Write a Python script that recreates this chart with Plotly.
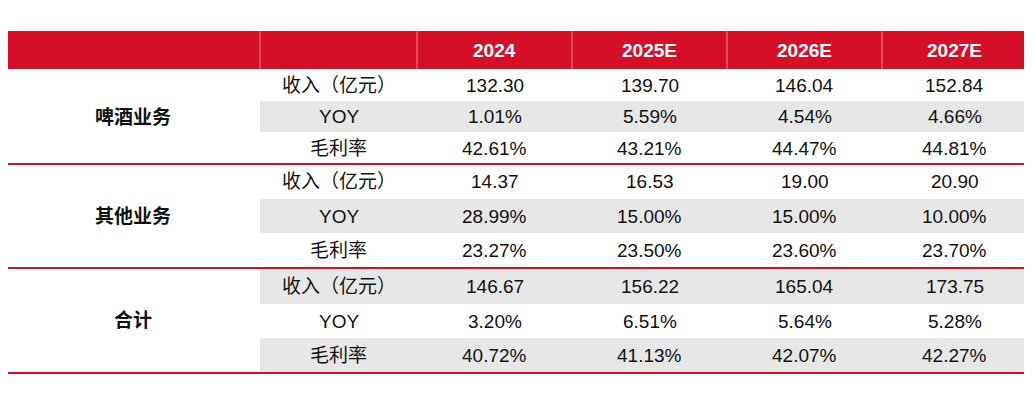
import plotly.graph_objects as go

TITLE = "表6  盈利预测拆分"
SOURCE = "资料来源：wind，东海证券研究所"
YEARS = ["2024", "2025E", "2026E", "2027E"]
GROUPS = ["啤酒业务", "其他业务", "合计"]
ITEMS = ["收入（亿元）", "YOY", "毛利率"]
VALUES = [
    [["132.30", "139.70", "146.04", "152.84"],
     ["1.01%", "5.59%", "4.54%", "4.66%"],
     ["42.61%", "43.21%", "44.47%", "44.81%"]],
    [["14.37", "16.53", "19.00", "20.90"],
     ["28.99%", "15.00%", "15.00%", "10.00%"],
     ["23.27%", "23.50%", "23.60%", "23.70%"]],
    [["146.67", "156.22", "165.04", "173.75"],
     ["3.20%", "6.51%", "5.64%", "5.28%"],
     ["40.72%", "41.13%", "42.07%", "42.27%"]],
]
SHADED = [[False, True, False], [False, True, False], [True, False, True]]

RED = "#D40F27"
GRAY = "#E7E7E7"
FONT = "Liberation Sans, Noto Sans CJK SC"
W, H = 1032, 405
PAD = 8  # page body margin
COL_X = [5, 260, 417, 572, 727, 882, 1027]
HEAD_Y = (31, 69)
ROW_Y = [[70, 101, 132, 164], [164, 199, 233, 268], [268, 304, 338, 373]]

shapes, ann = [], []

def text(x, y, s, size=19, color="#111", bold=False, anchor="center"):
    ann.append(dict(x=x, y=y, xref="x", yref="y", text=f"<b>{s}</b>" if bold else s,
                    showarrow=False, xanchor=anchor, yanchor="middle",
                    font=dict(family=FONT, size=size, color=color)))

text(4, 15, TITLE, size=18, color=RED, bold=True, anchor="left")
shapes.append(dict(type="rect", x0=COL_X[0], x1=COL_X[-1], y0=HEAD_Y[0], y1=HEAD_Y[1],
                   fillcolor=RED, line_width=0, layer="below"))
for cx in COL_X[1:-1]:
    shapes.append(dict(type="line", x0=cx, x1=cx, y0=HEAD_Y[0], y1=HEAD_Y[1],
                       line=dict(color="rgba(255,255,255,0.5)", width=1)))
for j, yr in enumerate(YEARS):
    text((COL_X[j + 2] + COL_X[j + 3]) / 2, sum(HEAD_Y) / 2, yr, color="white", bold=True)

for g, grp in enumerate(GROUPS):
    ys = ROW_Y[g]
    for r, item in enumerate(ITEMS):
        y0, y1 = ys[r], ys[r + 1]
        if SHADED[g][r]:
            shapes.append(dict(type="rect", x0=COL_X[1], x1=COL_X[-1], y0=y0, y1=y1,
                               fillcolor=GRAY, line_width=0, layer="below"))
        yc = (y0 + y1) / 2
        text((COL_X[1] + COL_X[2]) / 2, yc, item)
        for j, v in enumerate(VALUES[g][r]):
            text((COL_X[j + 2] + COL_X[j + 3]) / 2, yc, v)
    text((COL_X[0] + COL_X[1]) / 2, (ys[0] + ys[-1]) / 2, grp, bold=True)
    shapes.append(dict(type="line", x0=COL_X[0], x1=COL_X[-1], y0=ys[-1], y1=ys[-1],
                       line=dict(color=RED, width=2)))

text(4, 389, SOURCE, size=17, color=RED, anchor="left")

fig = go.Figure()
fig.update_layout(
    width=W - 2 * PAD, height=H - 2 * PAD, margin=dict(l=0, r=0, t=0, b=0),
    plot_bgcolor="white", paper_bgcolor="white",
    xaxis=dict(range=[PAD, W - PAD], visible=False, fixedrange=True),
    yaxis=dict(range=[H - PAD, PAD], visible=False, fixedrange=True),
    shapes=shapes, annotations=ann, showlegend=False,
)
fig.write_html("out.html")
